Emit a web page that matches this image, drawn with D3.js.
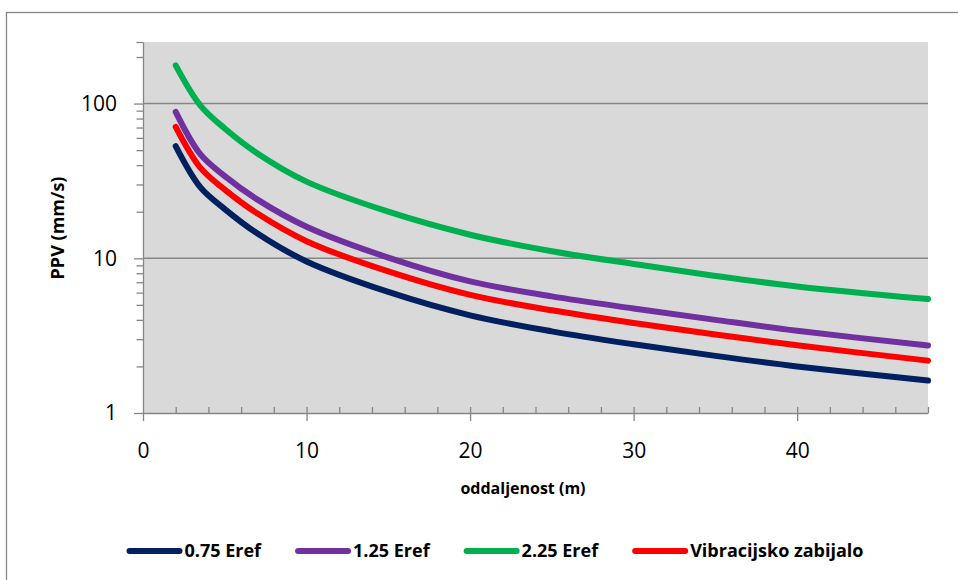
<!DOCTYPE html>
<html>
<head>
<meta charset="utf-8">
<script src="https://cdn.jsdelivr.net/npm/d3@7"></script>
<style>
  body { margin: 0; background: #fff; }
  svg { display: block; }
</style>
</head>
<body>
<svg id="chart" width="958" height="580"></svg>
<script>
// Distance from the source (m)
const distances = [2, 3.5, 5, 7, 10, 15, 20, 25, 30, 35, 40, 48];

// Peak particle velocity (mm/s) for each energy case
const ppv075 = [53.0, 28.8, 20.8, 14.45, 9.54, 6.06, 4.28, 3.37, 2.78, 2.34, 2.00, 1.62];
const ppv125 = [88.3, 47.1, 34.0, 23.95, 16.0, 10.1, 7.09, 5.67, 4.74, 4.00, 3.40, 2.73];
const ppv225 = [176.6, 97.5, 69.0, 47.6, 31.3, 20.0, 14.2, 11.1, 9.19, 7.69, 6.58, 5.45];
const ppvVibro = [70.6, 38.5, 27.8, 19.45, 12.9, 8.22, 5.80, 4.61, 3.82, 3.22, 2.74, 2.18];

const seriesNames = ["0.75 Eref", "1.25 Eref", "2.25 Eref", "Vibracijsko zabijalo"];
const seriesColors = ["#002060", "#7030A0", "#00B050", "#FF0000"];

const xTicks = [0, 10, 20, 30, 40];
const xMinorTicks = d3.range(2, 49, 2);
const yTicks = [1, 10, 100];
const yMinorTicks = [2, 3, 4, 5, 6, 7, 8, 9, 20, 30, 40, 50, 60, 70, 80, 90, 200, 250];

const xTitle = "oddaljenost (m)";
const yTitle = "PPV (mm/s)";

const series = [ppv075, ppv125, ppv225, ppvVibro].map((vals, i) => ({
  name: seriesNames[i],
  color: seriesColors[i],
  points: distances.map((d, j) => ({ x: d, y: vals[j] }))
}));

const svg = d3.select("#chart");
const axisColor = "#868686";
const font = "'Open Sans', sans-serif";

const plot = { left: 143, right: 928, top: 42, bottom: 413 };
const x = d3.scaleLinear().domain([0, 48]).range([plot.left, plot.right]);
const y = d3.scaleLog().domain([1, 250]).range([plot.bottom, plot.top]);

// chart border
svg.append("rect")
  .attr("x", 6.5).attr("y", 12.5)
  .attr("width", 1000).attr("height", 1000)
  .attr("fill", "none")
  .attr("stroke", axisColor)
  .attr("stroke-width", 1.3);

// plot area
svg.append("rect")
  .attr("x", plot.left).attr("y", plot.top)
  .attr("width", plot.right - plot.left)
  .attr("height", plot.bottom - plot.top)
  .attr("fill", "#D9D9D9");

// horizontal gridlines at the decades
svg.append("g").selectAll("line")
  .data(yTicks.filter(v => v > 1))
  .join("line")
  .attr("x1", plot.left).attr("x2", plot.right)
  .attr("y1", d => y(d)).attr("y2", d => y(d))
  .attr("stroke", axisColor)
  .attr("stroke-width", 1.5);

// y axis: minor ticks
svg.append("g")
  .attr("transform", `translate(${plot.left},0)`)
  .call(d3.axisLeft(y).tickValues(yMinorTicks).tickSize(6.5).tickSizeOuter(0).tickFormat(""))
  .call(g => g.select(".domain").remove())
  .call(g => g.selectAll("line").attr("stroke", axisColor).attr("stroke-width", 1.3));

// y axis: major ticks and labels
svg.append("g")
  .attr("transform", `translate(${plot.left},0)`)
  .call(d3.axisLeft(y).tickValues(yTicks).tickSize(9).tickSizeOuter(0).tickPadding(17).tickFormat(d3.format("d")))
  .call(g => g.select(".domain").attr("stroke", axisColor).attr("stroke-width", 1.3))
  .call(g => g.selectAll("line").attr("stroke", axisColor).attr("stroke-width", 1.3))
  .call(g => g.selectAll("text").attr("fill", "#000").attr("font-size", 21).attr("font-family", font));

// x axis: minor ticks (inside the plot)
svg.append("g")
  .attr("transform", `translate(0,${plot.bottom})`)
  .call(d3.axisTop(x).tickValues(xMinorTicks).tickSize(6).tickSizeOuter(0).tickFormat(""))
  .call(g => g.select(".domain").remove())
  .call(g => g.selectAll("line").attr("stroke", axisColor).attr("stroke-width", 1.3));

// x axis: major ticks and labels
svg.append("g")
  .attr("transform", `translate(0,${plot.bottom})`)
  .call(d3.axisBottom(x).tickValues(xTicks).tickSize(8).tickSizeOuter(0).tickPadding(22).tickFormat(d3.format("d")))
  .call(g => g.select(".domain").attr("stroke", axisColor).attr("stroke-width", 1.3))
  .call(g => g.selectAll("line").attr("stroke", axisColor).attr("stroke-width", 1.3))
  .call(g => g.selectAll("text").attr("fill", "#000").attr("font-size", 21).attr("font-family", font));

// axis titles
svg.append("text")
  .attr("x", 523)
  .attr("y", 494)
  .attr("text-anchor", "middle")
  .attr("font-family", font)
  .attr("font-weight", "bold")
  .attr("font-size", 16)
  .text(xTitle);

svg.append("text")
  .attr("transform", `translate(64,228) rotate(-90)`)
  .attr("text-anchor", "middle")
  .attr("font-family", font)
  .attr("font-weight", "bold")
  .attr("font-size", 18)
  .text(yTitle);

// series lines
const line = d3.line()
  .x(d => x(d.x))
  .y(d => y(d.y))
  .curve(d3.curveCatmullRom.alpha(0.5));

svg.append("g").selectAll("path")
  .data(series)
  .join("path")
  .attr("d", d => line(d.points))
  .attr("fill", "none")
  .attr("stroke", d => d.color)
  .attr("stroke-width", 6)
  .attr("stroke-linecap", "round")
  .attr("stroke-linejoin", "round");

// legend
const legend = svg.append("g");
const swatchW = 50, textOffset = 58, itemGap = 34, legendY = 551;
const items = legend.selectAll("g")
  .data(series)
  .join("g");
items.append("line")
  .attr("x1", 3).attr("x2", 3 + swatchW)
  .attr("y1", 0).attr("y2", 0)
  .attr("stroke", d => d.color)
  .attr("stroke-width", 6)
  .attr("stroke-linecap", "round");
items.append("text")
  .attr("x", textOffset)
  .attr("dy", "0.36em")
  .attr("font-family", font)
  .attr("font-weight", "bold")
  .attr("font-size", 18)
  .text(d => d.name);

const widths = [];
items.each(function () {
  widths.push(textOffset + d3.select(this).select("text").node().getComputedTextLength());
});
const total = d3.sum(widths) + itemGap * (widths.length - 1);
let cx = 495 - total / 2;
items.attr("transform", (d, i) => {
  const t = `translate(${cx},${legendY})`;
  cx += widths[i] + itemGap;
  return t;
});
</script>
</body>
</html>
